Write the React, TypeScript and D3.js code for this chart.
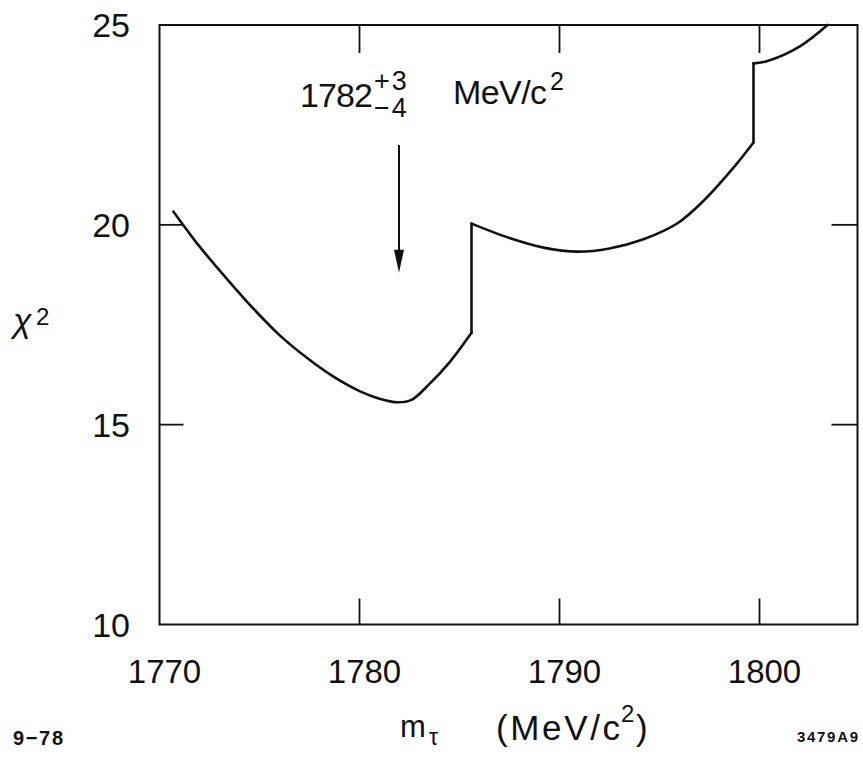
import React from 'react';
import * as d3 from 'd3';

// chi^2 vs tau mass, three branches separated by threshold jumps
const branchA: [number, number][] = [
  [1770.7, 20.33], [1772.0, 19.46], [1773.4, 18.63], [1774.7, 17.9],
  [1776.0, 17.24], [1777.4, 16.66], [1778.7, 16.2], [1780.0, 15.84],
  [1781.0, 15.65], [1781.9, 15.56], [1782.6, 15.62], [1783.5, 16.02],
  [1784.5, 16.56], [1785.6, 17.3],
];
const branchB: [number, number][] = [
  [1785.6, 20.03], [1787.5, 19.67], [1789.2, 19.43], [1790.9, 19.33],
  [1792.5, 19.41], [1794.2, 19.64], [1795.9, 20.04], [1797.2, 20.6],
  [1798.7, 21.43], [1799.7, 22.06],
];
const branchC: [number, number][] = [
  [1799.7, 24.04], [1800.4, 24.1], [1802.0, 24.46], [1803.4, 25.0],
];
const branches = [branchA, branchB, branchC];

const xTicks = [1770, 1780, 1790, 1800];
const yTicks = [10, 15, 20, 25];
const xInnerTicks = [1780, 1790, 1800];
const yInnerTicks = [15, 20];

const bestMass = 1782;
const errUp = '+3';
const errDown = '\u22124';
const arrowFrom = 22.0;
const arrowTo = 18.8;

const FONT = '"Liberation Sans", Arial, sans-serif';

export default function App() {
  const width = 863;
  const height = 758;

  const x = d3.scaleLinear().domain([1770, 1804.9]).range([159.5, 857.5]);
  const y = d3.scaleLinear().domain([10, 25]).range([624.5, 25]);

  const line = d3.line<[number, number]>()
    .x(d => x(d[0]))
    .y(d => y(d[1]))
    .curve(d3.curveCatmullRom.alpha(0.5));

  const tickLen = 26;
  const ax = x(bestMass) - 0.5;

  return (
    <div style={{ position: 'absolute', left: 0, top: 0 }}>
      <svg width={width} height={height} style={{ display: 'block', background: '#fff' }}>
        {/* frame */}
        <rect
          x={x(1770)} y={y(25)}
          width={x(1804.9) - x(1770)} height={y(10) - y(25)}
          fill="none" stroke="#111" strokeWidth={2}
        />

        {/* inner ticks */}
        {xInnerTicks.map(t => (
          <g key={'xt' + t}>
            <line x1={x(t)} x2={x(t)} y1={y(10)} y2={y(10) - tickLen} stroke="#111" strokeWidth={1.8} />
            <line x1={x(t)} x2={x(t)} y1={y(25)} y2={y(25) + tickLen + 2} stroke="#111" strokeWidth={1.8} />
          </g>
        ))}
        {yInnerTicks.map(t => (
          <g key={'yt' + t}>
            <line x1={x(1770)} x2={x(1770) + tickLen - 2} y1={y(t)} y2={y(t)} stroke="#111" strokeWidth={1.8} />
            <line x1={x(1804.9)} x2={x(1804.9) - tickLen} y1={y(t)} y2={y(t)} stroke="#111" strokeWidth={1.8} />
          </g>
        ))}

        {/* tick labels */}
        {xTicks.map(t => (
          <text key={'xl' + t} x={x(t) + 5} y={683} textAnchor="middle"
            fontFamily={FONT} fontSize={33} fill="#111">{t}</text>
        ))}
        {yTicks.map(t => (
          <text key={'yl' + t} x={130} y={y(t) + 12} textAnchor="end"
            fontFamily={FONT} fontSize={34} fill="#111">{t}</text>
        ))}

        {/* curve branches */}
        {branches.map((b, i) => (
          <path key={'b' + i} d={line(b) ?? ''} fill="none" stroke="#111"
            strokeWidth={2.6} strokeLinejoin="round" strokeLinecap="round" />
        ))}
        {/* vertical threshold jumps */}
        {branches.slice(0, -1).map((b, i) => {
          const end = b[b.length - 1];
          const start = branches[i + 1][0];
          return (
            <line key={'j' + i} x1={x(end[0])} y1={y(end[1])} x2={x(start[0])} y2={y(start[1])}
              stroke="#111" strokeWidth={2.6} strokeLinecap="round" />
          );
        })}

        {/* best-fit arrow */}
        <line x1={ax} x2={ax} y1={y(arrowFrom)} y2={y(arrowTo) - 18} stroke="#111" strokeWidth={2} />
        <polygon
          points={`${ax - 5},${y(arrowTo) - 23} ${ax + 5},${y(arrowTo) - 23} ${ax},${y(arrowTo)}`}
          fill="#111"
        />

        {/* annotation */}
        <text x={300} y={107} fontFamily={FONT} fontSize={34} fill="#111" textLength={73}>{bestMass}</text>
        <text x={374} y={90} fontFamily={FONT} fontSize={27} fill="#111" letterSpacing={2}>{errUp}</text>
        <text x={374} y={117} fontFamily={FONT} fontSize={27} fill="#111" letterSpacing={2}>{errDown}</text>
        <text x={453} y={104} fontFamily={FONT} fontSize={34} fill="#111" textLength={94}>MeV/c</text>
        <text x={550} y={90} fontFamily={FONT} fontSize={25} fill="#111">2</text>

        {/* y axis label */}
        <text x={13} y={332} fontFamily={FONT} fontSize={34} fontStyle="italic" fill="#111">χ</text>
        <text x={36} y={325} fontFamily={FONT} fontSize={24} fill="#111">2</text>

        {/* x axis label */}
        <text x={400} y={737} fontFamily={FONT} fontSize={31} fill="#111">m</text>
        <text x={429} y={745} fontFamily={FONT} fontSize={23} fill="#111">τ</text>
        <text x={496} y={740} fontFamily={FONT} fontSize={35} fill="#111" textLength={124}>(MeV/c</text>
        <text x={621} y={722} fontFamily={FONT} fontSize={24} fill="#111">2</text>
        <text x={636} y={740} fontFamily={FONT} fontSize={35} fill="#111">)</text>

        {/* plate ids */}
        <text x={13} y={745} fontFamily={FONT} fontSize={20} fontWeight="bold" fill="#111" textLength={50}>9{'\u2212'}78</text>
        <text x={797} y={742} fontFamily={FONT} fontSize={15} fontWeight="bold" fill="#111" textLength={61}>3479A9</text>
      </svg>
    </div>
  );
}
